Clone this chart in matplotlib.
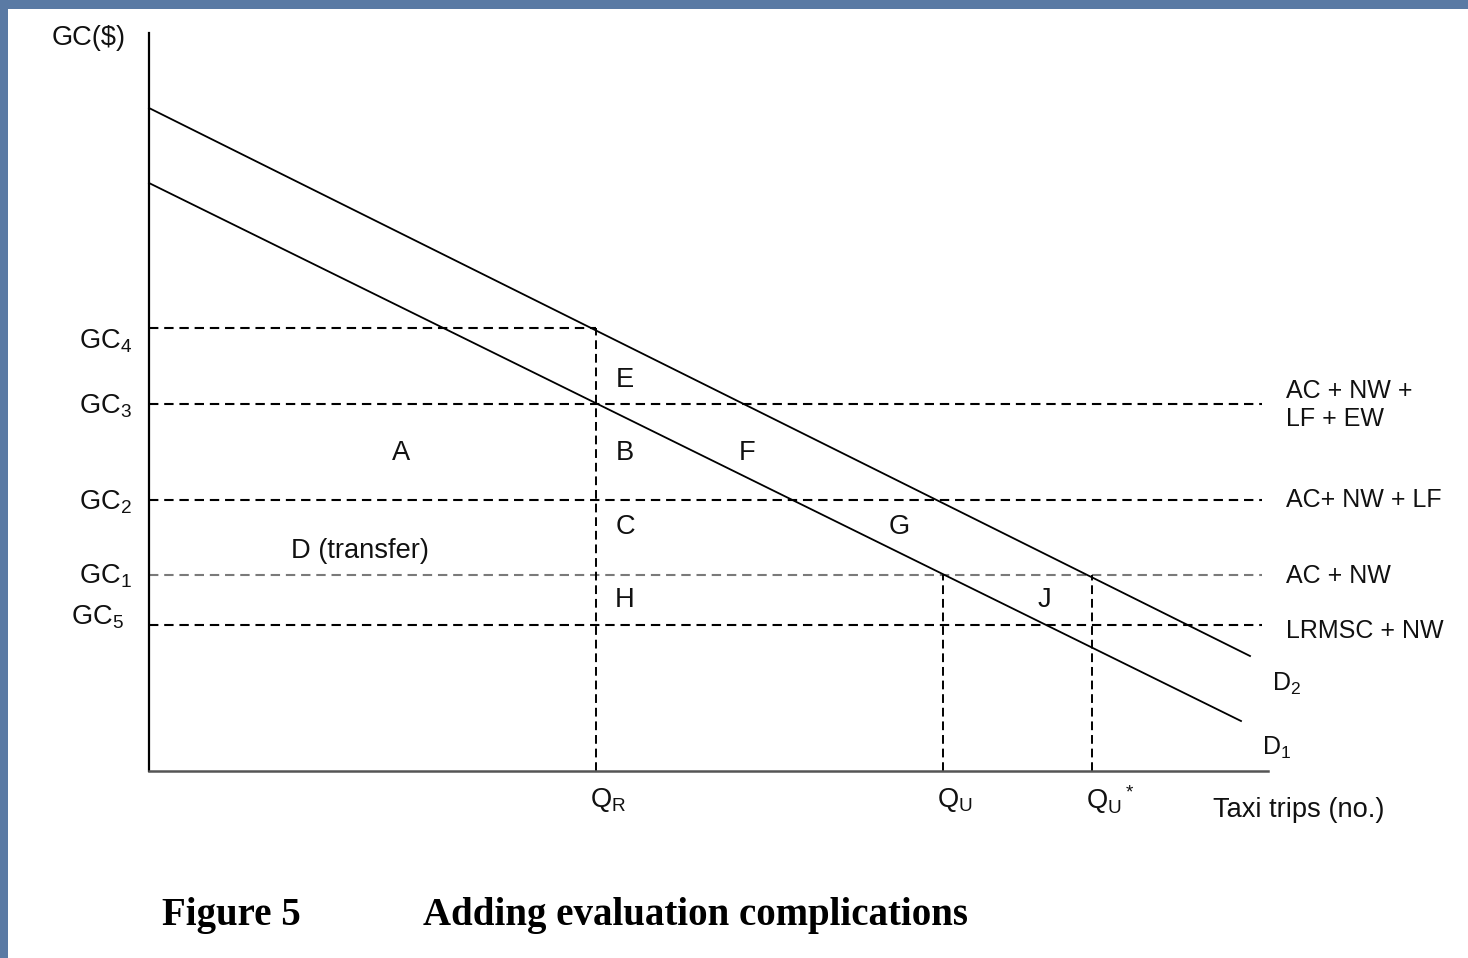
import matplotlib
matplotlib.use("Agg")
import numpy as np
import matplotlib.pyplot as plt
from matplotlib.patches import Rectangle

plt.rcParams["font.family"] = ["Liberation Sans", "DejaVu Sans"]
plt.rcParams["mathtext.default"] = "regular"

# demand curves (GC vs trips), straight lines given by end points
d2_x = [0.0, 110.1]
d2_y = [66.3, 11.5]
d1_x = [0.0, 109.2]
d1_y = [58.8, 5.0]

# generalised cost levels
gc_names = ["GC$_4$", "GC$_3$", "GC$_2$", "GC$_1$", "GC$_5$"]
gc_vals = [44.3, 36.7, 27.1, 19.6, 14.6]
gc_label_y = [43.0, 36.5, 26.9, 19.5, 15.4]

# quantities
q_names = ["Q$_R$", "Q$_U$", "Q$_U$$^*$"]
q_vals = [44.7, 79.4, 94.3]
q_tops = [44.3, 19.6, 19.6]

# labels for the right hand cost lines
cost_names = ["AC + NW +\nLF + EW", "AC+ NW + LF", "AC + NW", "LRMSC + NW"]
cost_y = [36.6, 27.1, 19.5, 14.0]

# area letters
area_names = ["A", "B", "C", "D (transfer)", "E", "F", "G", "H", "J"]
area_x = [25.2, 47.6, 47.6, 21.1, 47.6, 59.8, 75.0, 47.6, 89.5]
area_y = [31.8, 31.8, 24.4, 22.0, 39.1, 31.8, 24.4, 17.1, 17.1]

W, H = 1468, 958
fig = plt.figure(figsize=(W / 100, H / 100), dpi=100, facecolor="#5a7aa4")
# white slide area
fig.patches.append(Rectangle((8 / W, 0), 1 - 8 / W, 1 - 9 / H, transform=fig.transFigure,
                             facecolor="white", edgecolor="none", zorder=-10))

ax = fig.add_axes([149 / W, (H - 771) / H, 1119 / W, 738 / H])
ax.set_xlim(0, 111.9)
ax.set_ylim(0, 73.8)
ax.patch.set_alpha(0)
for s in ["top", "right"]:
    ax.spines[s].set_visible(False)
ax.spines["left"].set_linewidth(1.6)
ax.spines["left"].set_color("black")
ax.spines["bottom"].set_linewidth(1.8)
ax.spines["bottom"].set_color("#555555")
ax.set_xticks([])
ax.set_yticks([])

txt = "#111111"
dash = (4.5, 2.8)

# horizontal dashed cost lines
ax.plot([0, q_vals[0]], [gc_vals[0], gc_vals[0]], color="black", lw=1.5, dashes=dash, clip_on=False)
for v, c in zip(gc_vals[1:], ["black", "black", "#7a7a7a", "black"]):
    ax.plot([0, 111.3], [v, v], color=c, lw=1.5, dashes=dash, clip_on=False)

# vertical dashed lines
for q, t in zip(q_vals, q_tops):
    ax.plot([q, q], [0, t], color="black", lw=1.4, dashes=(4.5, 2.5), clip_on=False)

# demand curves
ax.plot(d2_x, d2_y, color="black", lw=1.3, clip_on=False)
ax.plot(d1_x, d1_y, color="black", lw=1.3, clip_on=False)

fs = 19.6
fs_r = 18
for name, yy, v in zip(gc_names, gc_label_y, gc_vals):
    xx = -1.7 if name != "GC$_5$" else -2.5
    ax.text(xx, yy, name, ha="right", va="center", fontsize=fs, color=txt, clip_on=False)

ax.text(-6.0, 73.3, "GC($)", ha="center", va="center", fontsize=fs, color=txt)

for name, q in zip(q_names, q_vals):
    ax.text(q - 0.6, -2.9, name, ha="left", va="center", fontsize=fs, color=txt)
ax.text(106.4, -3.9, "Taxi trips (no.)", ha="left", va="center", fontsize=fs, color=txt)

for name, yy in zip(cost_names, cost_y):
    ax.text(113.7, yy, name, ha="left", va="center", fontsize=fs_r, color=txt, linespacing=1.25)
ax.text(112.3, 8.7, "D$_2$", ha="left", va="center", fontsize=fs_r, color=txt)
ax.text(111.3, 2.3, "D$_1$", ha="left", va="center", fontsize=fs_r, color=txt)

for name, xx, yy in zip(area_names, area_x, area_y):
    ax.text(xx, yy, name, ha="center", va="center", fontsize=fs, color=txt)

fig.text(162 / W, 1 - 915 / H, "Figure 5", ha="left", va="center", fontsize=28,
         fontweight="bold", family="Liberation Serif", color="black")
fig.text(423 / W, 1 - 915 / H, "Adding evaluation complications", ha="left", va="center",
         fontsize=28, fontweight="bold", family="Liberation Serif", color="black")

fig.savefig("out.png", dpi=100, facecolor=fig.get_facecolor())
